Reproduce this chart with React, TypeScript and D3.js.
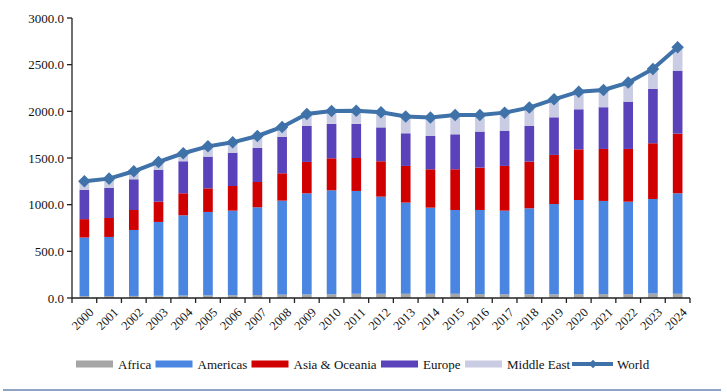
import React from 'react';
import * as d3 from 'd3';

const years = [
  '2000', '2001', '2002', '2003', '2004', '2005', '2006', '2007', '2008', '2009',
  '2010', '2011', '2012', '2013', '2014', '2015', '2016', '2017', '2018', '2019',
  '2020', '2021', '2022', '2023', '2024',
];

const africa = [20, 20, 22, 24, 26, 28, 30, 32, 36, 38, 40, 45, 45, 45, 45, 45, 42, 40, 40, 40, 42, 42, 42, 48, 45];
const americas = [628, 634, 707, 791, 860, 894, 906, 940, 1007, 1084, 1114, 1102, 1041, 977, 923, 898, 901, 896, 921, 967, 1008, 998, 990, 1013, 1077];
const asiaOceania = [197, 203, 214, 217, 236, 253, 264, 271, 293, 336, 343, 353, 379, 393, 411, 436, 454, 479, 500, 526, 543, 557, 565, 597, 639];
const europe = [315, 322, 329, 340, 343, 340, 357, 365, 389, 385, 368, 365, 363, 350, 357, 375, 386, 378, 382, 403, 429, 447, 507, 582, 675];
const middleEast = [90, 100, 86, 86, 86, 110, 111, 128, 108, 129, 139, 141, 162, 179, 197, 207, 178, 193, 197, 193, 189, 185, 204, 214, 251];
const world = [1250, 1279, 1358, 1458, 1551, 1625, 1668, 1736, 1833, 1972, 2004, 2006, 1990, 1944, 1933, 1961, 1961, 1986, 2040, 2129, 2211, 2229, 2308, 2454, 2687];

const yTicks = [0, 500, 1000, 1500, 2000, 2500, 3000];

const seriesNames = ['Africa', 'Americas', 'Asia & Oceania', 'Europe', 'Middle East'];
const seriesColors = ['#a6a6a6', '#4a86e1', '#d00000', '#5a43ba', '#c9cce2'];
const worldColor = '#3f72a9';

const width = 727;
const height = 392;
const margin = { top: 18, right: 37, bottom: 94, left: 72 };
const font = 'Liberation Serif';

const App = () => {
  const rows = years.map((year, i) => ({
    year,
    Africa: africa[i],
    Americas: americas[i],
    'Asia & Oceania': asiaOceania[i],
    Europe: europe[i],
    'Middle East': middleEast[i],
  }));

  const x = d3
    .scaleBand()
    .domain(years)
    .range([margin.left, width - margin.right])
    .padding(0);

  const y = d3
    .scaleLinear()
    .domain([0, 3000])
    .range([height - margin.bottom, margin.top]);

  const stacked = d3.stack<any>().keys(seriesNames)(rows);
  const barW = x.bandwidth() * 0.39;
  const cx = (d: string) => (x(d) as number) + x.bandwidth() / 2;
  const bottom = y(0);

  const line = d3
    .line<number>()
    .x((_, i) => cx(years[i]))
    .y(d => y(d));
  const diamond = d3.symbol().type(d3.symbolDiamond2).size(100)() as string;
  const smallDiamond = d3.symbol().type(d3.symbolDiamond2).size(45)() as string;
  const edges = d3.range(years.length + 1).map(i => margin.left + i * x.step());

  // legend layout
  const legendY = 364;
  const legendItems = [
    { name: seriesNames[0], x: 76, color: seriesColors[0] },
    { name: seriesNames[1], x: 155.5, color: seriesColors[1] },
    { name: seriesNames[2], x: 251.5, color: seriesColors[2] },
    { name: seriesNames[3], x: 381, color: seriesColors[3] },
    { name: seriesNames[4], x: 465, color: seriesColors[4] },
  ];

  return (
    <svg width={width} height={height} fontFamily={font} fontSize={13} style={{ position: 'absolute', left: 0, top: 0, background: '#fff' }}>
      {/* stacked bars */}
      {stacked.map((s, si) => (
        <g key={s.key} fill={seriesColors[si]}>
          {s.map(d => (
            <rect
              key={d.data.year}
              x={(x(d.data.year) as number) + (x.bandwidth() - barW) / 2}
              y={y(d[1])}
              width={barW}
              height={y(d[0]) - y(d[1])}
            />
          ))}
        </g>
      ))}

      {/* y axis */}
      <line x1={margin.left} x2={margin.left} y1={y(3000)} y2={bottom} stroke="#222" strokeWidth={1.3} />
      {yTicks.map(t => (
        <g key={t} transform={`translate(${margin.left},${y(t)})`}>
          <line x1={-5} x2={0} stroke="#222" strokeWidth={1.3} />
          <text x={-8} dy="0.35em" textAnchor="end" fill="#111" fontFamily={font}>
            {d3.format('.1f')(t)}
          </text>
        </g>
      ))}

      {/* x axis */}
      <line x1={margin.left} x2={width - margin.right} y1={bottom} y2={bottom} stroke="#222" strokeWidth={1.5} />
      {edges.map((e, i) => (
        <line key={i} x1={e} x2={e} y1={bottom} y2={bottom + 5} stroke="#222" strokeWidth={1.3} />
      ))}
      {years.map(yr => (
        <text
          key={yr}
          transform={`translate(${cx(yr) + 7},${bottom + 12}) rotate(-45)`}
          textAnchor="end"
          dy="0.35em"
          fill="#111"
          fontFamily={font}
          fontSize={12.5}
        >
          {yr}
        </text>
      ))}

      {/* world line */}
      <path d={line(world) as string} fill="none" stroke={worldColor} strokeWidth={4} />
      {world.map((v, i) => (
        <path key={i} d={diamond} transform={`translate(${cx(years[i])},${y(v)})`} fill={worldColor} />
      ))}

      {/* legend */}
      {legendItems.map(it => (
        <g key={it.name}>
          <rect x={it.x} y={legendY - 3.5} width={37} height={7} fill={it.color} />
          <text x={it.x + 42} y={legendY} dy="0.35em" fill="#111" fontFamily={font}>
            {it.name}
          </text>
        </g>
      ))}
      <line x1={572} x2={613} y1={legendY} y2={legendY} stroke={worldColor} strokeWidth={4} />
      <path d={smallDiamond} transform={`translate(593,${legendY})`} fill={worldColor} />
      <text x={617} y={legendY} dy="0.35em" fill="#111" fontFamily={font}>
        World
      </text>

      {/* bottom rule */}
      <line x1={3} x2={721} y1={390} y2={390} stroke="#8fa4c4" strokeWidth={2} />
    </svg>
  );
};

export default App;
